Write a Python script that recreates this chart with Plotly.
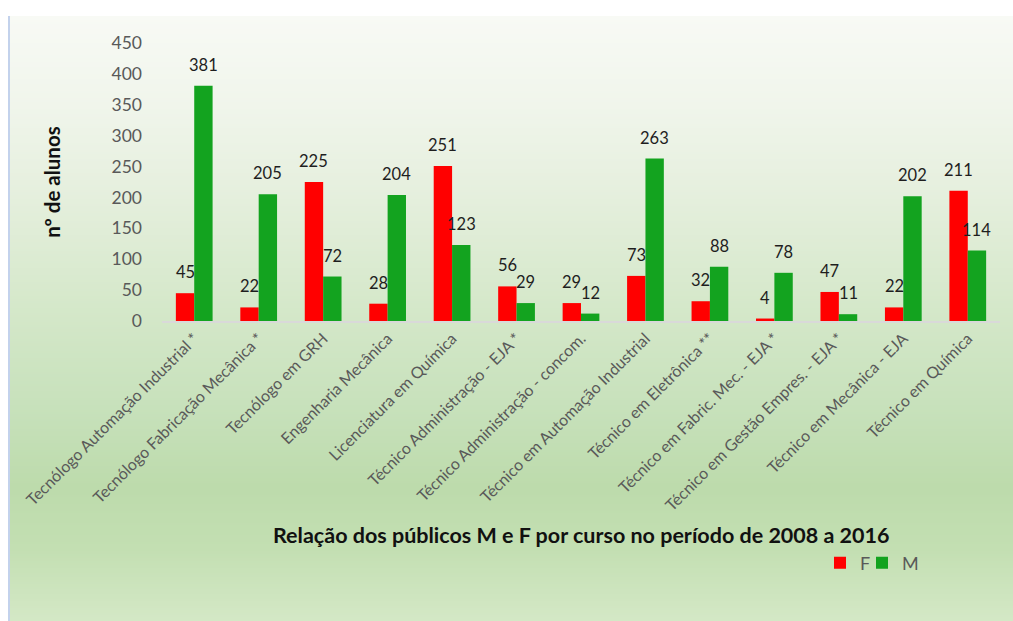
import base64
import struct
import zlib

import plotly.graph_objects as go

# Courses and enrolment counts (2008-2016)
cursos = [
    "Tecnólogo Automação Industrial *",
    "Tecnólogo Fabricação Mecânica *",
    "Tecnólogo em GRH",
    "Engenharia Mecânica",
    "Licenciatura em Química",
    "Técnico Administração - EJA *",
    "Técnico Administração - concom.",
    "Técnico em Automação Industrial",
    "Técnico em Eletrônica **",
    "Técnico em Fabric. Mec. - EJA *",
    "Técnico em Gestão Empres. - EJA *",
    "Técnico em Mecânica - EJA",
    "Técnico em Química",
]
feminino = [45, 22, 225, 28, 251, 56, 29, 73, 32, 4, 47, 22, 211]
masculino = [381, 205, 72, 204, 123, 29, 12, 263, 88, 78, 11, 202, 114]
y_ticks = [0, 50, 100, 150, 200, 250, 300, 350, 400, 450]

# Figure geometry (pixels)
W, H = 1013, 621
ML, MR, MT, MB = 162, 13, 43, 300
PW, PH = W - ML - MR, H - MT - MB

RED = "#ff0000"
GREEN = "#13a31f"
GRAY = "#595959"
FONT = "Lato"
BAR_GAP = 0.43


def px_to_paper_x(px):
    return (px - ML) / PW


def px_to_paper_y(py):
    return (H - MB - py) / PH


def gradient_png(stops, height=256):
    """Build a 1-pixel-wide vertical gradient PNG as a data URI."""
    rows = []
    for i in range(height):
        t = i / (height - 1)
        for (t0, c0), (t1, c1) in zip(stops[:-1], stops[1:]):
            if t0 <= t <= t1:
                f = (t - t0) / (t1 - t0) if t1 > t0 else 0
                rows.append(tuple(int(round(a + (b - a) * f)) for a, b in zip(c0, c1)))
                break
    raw = b"".join(b"\x00" + bytes(rgb) for rgb in rows)

    def chunk(tag, data):
        c = struct.pack(">I", len(data)) + tag + data
        return c + struct.pack(">I", zlib.crc32(tag + data) & 0xFFFFFFFF)

    png = b"\x89PNG\r\n\x1a\n"
    png += chunk(b"IHDR", struct.pack(">IIBBBBB", 1, height, 8, 2, 0, 0, 0))
    png += chunk(b"IDAT", zlib.compress(raw, 9))
    png += chunk(b"IEND", b"")
    return "data:image/png;base64," + base64.b64encode(png).decode()


bg_stops = [
    (0.00, (248, 250, 245)),
    (0.15, (240, 245, 235)),
    (0.30, (229, 239, 221)),
    (0.48, (213, 232, 202)),
    (0.65, (199, 225, 187)),
    (0.78, (189, 219, 172)),
    (0.88, (195, 223, 178)),
    (1.00, (212, 232, 198)),
]

fig = go.Figure()
fig.add_trace(go.Bar(name="F", x=cursos, y=feminino, marker_color=RED,
                     marker_line_width=0, hoverinfo="x+y", legend="legend"))
fig.add_trace(go.Bar(name="M", x=cursos, y=masculino, marker_color=GREEN,
                     marker_line_width=0, hoverinfo="x+y", legend="legend2"))

# Value labels above each bar
half = (1 - BAR_GAP) / 4
for serie, sign in ((feminino, -1), (masculino, 1)):
    for i, v in enumerate(serie):
        fig.add_annotation(x=i + sign * half, y=v, xref="x", yref="y",
                           text=str(v), showarrow=False, yanchor="bottom",
                           yshift=9, font=dict(family=FONT, size=16.5, color="#1e1e1e"))

# Horizontal axis title
fig.add_annotation(text="<b>Relação dos públicos M e F por curso no período de 2008 a 2016</b>",
                   xref="paper", yref="paper", x=px_to_paper_x(581), y=px_to_paper_y(535),
                   xanchor="center", yanchor="middle", showarrow=False,
                   font=dict(family=FONT, size=21.5, color="#111111"))

# Gradient panel behind the chart
fig.add_layout_image(source=gradient_png(bg_stops), xref="paper", yref="paper",
                     x=px_to_paper_x(8), y=px_to_paper_y(16),
                     sizex=(W - 8) / PW, sizey=(H - 16) / PH,
                     xanchor="left", yanchor="top", sizing="stretch", layer="below")
fig.add_shape(type="rect", xref="paper", yref="paper",
              x0=px_to_paper_x(8), x1=px_to_paper_x(10),
              y0=px_to_paper_y(H), y1=px_to_paper_y(16),
              fillcolor="#c3d2ec", line_width=0, layer="below")

legend_style = dict(orientation="h", xanchor="left", yanchor="middle",
                    bgcolor="rgba(0,0,0,0)", itemwidth=30,
                    font=dict(family=FONT, size=18, color=GRAY))

fig.update_layout(
    width=W, height=H,
    margin=dict(l=ML, r=MR, t=MT, b=MB, autoexpand=False),
    paper_bgcolor="white", plot_bgcolor="rgba(0,0,0,0)",
    barmode="group", bargap=BAR_GAP, bargroupgap=0,
    font=dict(family=FONT, color=GRAY),
    showlegend=True,
    legend=dict(x=px_to_paper_x(820), y=px_to_paper_y(563), **legend_style),
    legend2=dict(x=px_to_paper_x(862), y=px_to_paper_y(563), **legend_style),
    xaxis=dict(
        tickangle=-45, tickfont=dict(family=FONT, size=16, color=GRAY),
        showgrid=False, showline=True, linecolor="#d9d9d9", linewidth=2,
        ticks="", automargin=False, fixedrange=True,
    ),
    yaxis=dict(
        range=[0, 450], tickvals=y_ticks, showgrid=False, zeroline=False,
        showline=False, ticks="", tickfont=dict(family=FONT, size=17.5, color=GRAY),
        ticklabelstandoff=19, automargin=False, fixedrange=True,
        title=dict(text="<b>nº de alunos</b>", standoff=45,
                   font=dict(family=FONT, size=20.5, color="#111111")),
    ),
)

fig.write_html("out.html", config={"displayModeBar": False})
